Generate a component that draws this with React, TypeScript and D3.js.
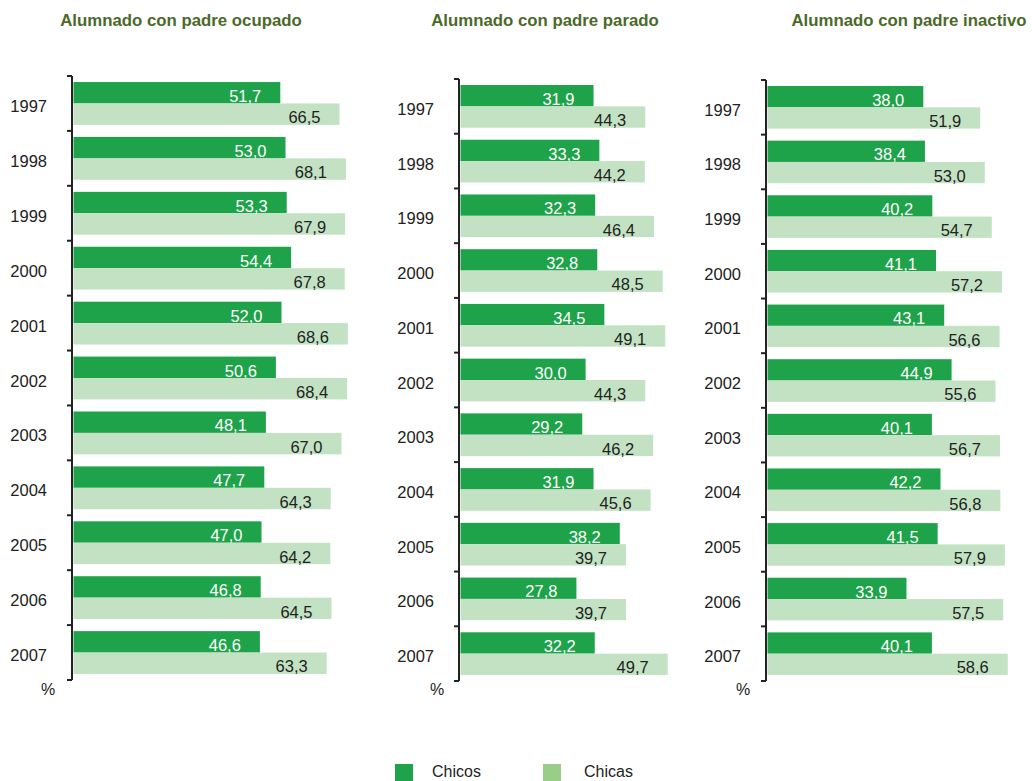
import React from "react";
import * as d3 from "d3";

const years = ["1997","1998","1999","2000","2001","2002","2003","2004","2005","2006","2007"];
const seriesNames = ["Chicos", "Chicas"];
const titles = ["Alumnado con padre ocupado", "Alumnado con padre parado", "Alumnado con padre inactivo"];

const ocupadoChicos = [51.7, 53.0, 53.3, 54.4, 52.0, 50.6, 48.1, 47.7, 47.0, 46.8, 46.6];
const ocupadoChicas = [66.5, 68.1, 67.9, 67.8, 68.6, 68.4, 67.0, 64.3, 64.2, 64.5, 63.3];
const paradoChicos = [31.9, 33.3, 32.3, 32.8, 34.5, 30.0, 29.2, 31.9, 38.2, 27.8, 32.2];
const paradoChicas = [44.3, 44.2, 46.4, 48.5, 49.1, 44.3, 46.2, 45.6, 39.7, 39.7, 49.7];
const inactivoChicos = [38.0, 38.4, 40.2, 41.1, 43.1, 44.9, 40.1, 42.2, 41.5, 33.9, 40.1];
const inactivoChicas = [51.9, 53.0, 54.7, 57.2, 56.6, 55.6, 56.7, 56.8, 57.9, 57.5, 58.6];

const FONT = "'Liberation Sans', Arial, Helvetica, sans-serif";
const C_CHICOS = "#1fa34a";
const C_CHICAS = "#c3e2c3";
const C_CHICAS_LEG = "#99cd88";
const C_TITLE = "#4b6a2a";
const C_TEXT = "#222222";

const panels = [
  { title: titles[0], chicos: ocupadoChicos, chicas: ocupadoChicas, axisX: 72, top: 76, bottom: 680, k: 4.0, titleX: 181, pctX: 48 },
  { title: titles[1], chicos: paradoChicos, chicas: paradoChicas, axisX: 459, top: 79, bottom: 681, k: 4.17, titleX: 545, pctX: 437 },
  { title: titles[2], chicos: inactivoChicos, chicas: inactivoChicas, axisX: 766, top: 80, bottom: 681, k: 4.1, titleX: 909, pctX: 743 },
];

const fmt = (v: number) => v.toFixed(1).replace(".", ",");

function Panel({ p }: { p: typeof panels[number] }) {
  const x0 = p.axisX + 1.5;
  const x = d3.scaleLinear().domain([0, 100]).range([x0, x0 + p.k * 100]);
  const y = d3.scaleBand<string>().domain(years).range([p.top, p.bottom]).paddingInner(0.22).paddingOuter(0.11);
  const ySub = d3.scaleBand<string>().domain(seriesNames).range([0, y.bandwidth()]).padding(0);
  const step = y.step();
  const tickYs = d3.range(years.length + 1).map((i) => p.top + i * step);
  return (
    <g>
      <text x={p.titleX} y={25.5} textAnchor="middle" fontFamily={FONT} fontWeight="bold" fontSize={16.8} fill={C_TITLE}>{p.title}</text>
      {years.map((yr, i) => {
        const by = y(yr)!;
        const vals = [p.chicos[i], p.chicas[i]];
        return (
          <g key={yr}>
            {seriesNames.map((s, j) => {
              const yy = by + ySub(s)!;
              const h = ySub.bandwidth();
              const xe = x(vals[j]);
              return (
                <g key={s}>
                  <rect x={x0} y={yy} width={xe - x0} height={h} fill={j === 0 ? C_CHICOS : C_CHICAS} />
                  <text x={xe - 19} y={yy + h - 1.5} textAnchor="end" fontFamily={FONT} fontSize={16.5} fill={j === 0 ? "#ffffff" : C_TEXT}>{fmt(vals[j])}</text>
                </g>
              );
            })}
            <text x={p.axisX - 25} y={by + y.bandwidth() / 2 + 8.5} textAnchor="end" fontFamily={FONT} fontSize={16.5} fill={C_TEXT}>{yr}</text>
          </g>
        );
      })}
      <line x1={p.axisX} x2={p.axisX} y1={p.top} y2={p.bottom} stroke={C_TEXT} strokeWidth={2} />
      {tickYs.map((ty, i) => (
        <line key={i} x1={p.axisX - 5} x2={p.axisX} y1={ty} y2={ty} stroke={C_TEXT} strokeWidth={2} />
      ))}
      <text x={p.pctX} y={695} textAnchor="middle" fontFamily={FONT} fontSize={16} fill={C_TEXT}>%</text>
    </g>
  );
}

export default function App() {
  return (
    <svg width={1032} height={781} style={{ position: "absolute", left: 0, top: 0, background: "#fff" }}>
      <rect width={1032} height={781} fill="#ffffff" />
      {panels.map((p, i) => <Panel key={i} p={p} />)}
      <rect x={395} y={764} width={18} height={17} fill={C_CHICOS} />
      <text x={432} y={777} fontFamily={FONT} fontSize={16} fill={C_TEXT}>{seriesNames[0]}</text>
      <rect x={543} y={764} width={18} height={17} fill={C_CHICAS_LEG} />
      <text x={584} y={777} fontFamily={FONT} fontSize={16} fill={C_TEXT}>{seriesNames[1]}</text>
    </svg>
  );
}
